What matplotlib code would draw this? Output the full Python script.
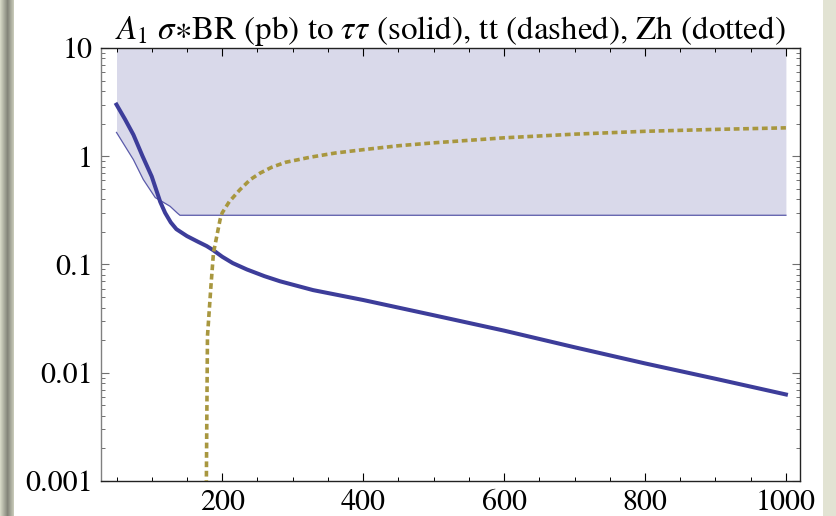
import numpy as np
import matplotlib
matplotlib.use('Agg')
import matplotlib.pyplot as plt
from matplotlib.patches import FancyBboxPatch
from matplotlib.ticker import FixedLocator, MultipleLocator, LogLocator, NullFormatter, FuncFormatter

plt.rcParams['font.family'] = 'STIXGeneral'
plt.rcParams['mathtext.fontset'] = 'stix'

# A1 -> tau tau cross section times BR (pb)
tautau_mass = [50, 62, 74, 87, 100, 112, 119, 127, 135, 150, 165, 178, 187, 200, 215, 235, 260, 282,
               329, 400, 500, 600, 700, 800, 900, 1000]
tautau_xsec = [3.0, 2.2, 1.58, 1.0, 0.65, 0.38, 0.30, 0.245, 0.212, 0.183, 0.163, 0.148, 0.136,
               0.118, 0.103, 0.090, 0.078, 0.070, 0.058, 0.047, 0.034, 0.0245, 0.0172, 0.0122,
               0.0088, 0.0063]

# excluded region (lower edge of the band)
limit_mass = [50, 74, 88, 105, 114, 126, 136, 140, 1000]
limit_xsec = [1.66, 0.93, 0.61, 0.415, 0.384, 0.345, 0.30, 0.285, 0.285]

# A1 -> Zh
zh_mass = [177.5, 178.2, 179.1, 184, 187.6, 197, 200, 210, 225, 240, 254, 270, 290, 325, 360, 400,
           450, 500, 600, 700, 800, 900, 1000]
zh_xsec = [0.0009, 0.004, 0.0218, 0.063, 0.128, 0.26, 0.30, 0.38, 0.49, 0.61, 0.70, 0.79, 0.88,
           0.98, 1.07, 1.15, 1.25, 1.33, 1.48, 1.60, 1.70, 1.77, 1.83]

y_ticks = [0.001, 0.01, 0.1, 1, 10]
y_labels = ['0.001', '0.01', '0.1', '1', '10']
x_ticks = [200, 400, 600, 800, 1000]

fig = plt.figure(figsize=(8.37, 5.16), dpi=100)
fig.patch.set_facecolor('#e2e3d3')

# textured strip on the left edge
strip = fig.add_axes([0, 0, 14 / 837, 1])
grad = np.linspace(0, 1, 14)
shade = 0.55 + 0.35 * np.abs(grad - 0.55) / 0.55
img = np.dstack([shade * 0.93, shade * 0.94, shade * 0.86])
strip.imshow(np.repeat(img, 10, axis=0), aspect='auto', interpolation='bilinear')
strip.axis('off')

card = FancyBboxPatch((13 / 837, -0.05), 810 / 837, 1.1, boxstyle='round,pad=0,rounding_size=0.03',
                      transform=fig.transFigure, facecolor='white', edgecolor='none', zorder=-1)
fig.patches.append(card)

ax = fig.add_axes([101 / 837, 1 - 481 / 516, 699 / 837, 433 / 516])
ax.set_facecolor('none')

ax.fill_between(limit_mass, limit_xsec, 10, color='#d9d9ea', lw=0, zorder=1)
ax.plot(limit_mass, limit_xsec, color='#5a5aaa', lw=0.9, zorder=2)
ax.plot(tautau_mass, tautau_xsec, color='#3d3d9a', lw=2.9, zorder=3)
ax.plot(zh_mass, zh_xsec, color='#a8973f', lw=2.6, linestyle=(0, (1.6, 1.0)),
        dash_capstyle='butt', zorder=3)

ax.set_yscale('log')
ax.set_xlim(28, 1020)
ax.set_ylim(0.001, 10)

ax.xaxis.set_major_locator(FixedLocator(x_ticks))
ax.xaxis.set_minor_locator(MultipleLocator(50))
ax.yaxis.set_major_locator(FixedLocator(y_ticks))
ax.yaxis.set_minor_locator(LogLocator(base=10, subs=np.arange(2, 10)))
ax.yaxis.set_major_formatter(FuncFormatter(lambda v, p: y_labels[y_ticks.index(v)] if v in y_ticks else ''))
ax.yaxis.set_minor_formatter(NullFormatter())

ax.tick_params(which='both', direction='in', top=True, right=True, labelsize=30 * 72 / 100)
ax.tick_params(which='major', length=5.5, width=0.8, pad=6)
ax.tick_params(which='minor', length=3, width=0.7)
ax.tick_params(axis='y', which='both', colors='#707070', labelcolor='black')

for side in ['top', 'right', 'bottom']:
    ax.spines[side].set_color('#222222')
ax.spines['left'].set_color('#808080')
for s in ax.spines.values():
    s.set_linewidth(1.0)

ax.set_title(r'$A_1\ \sigma{\ast}$BR (pb) to $\tau\tau$ (solid), tt (dashed), Zh (dotted)',
             fontsize=33 * 72 / 100, pad=5)

fig.savefig('out.png', dpi=100)
